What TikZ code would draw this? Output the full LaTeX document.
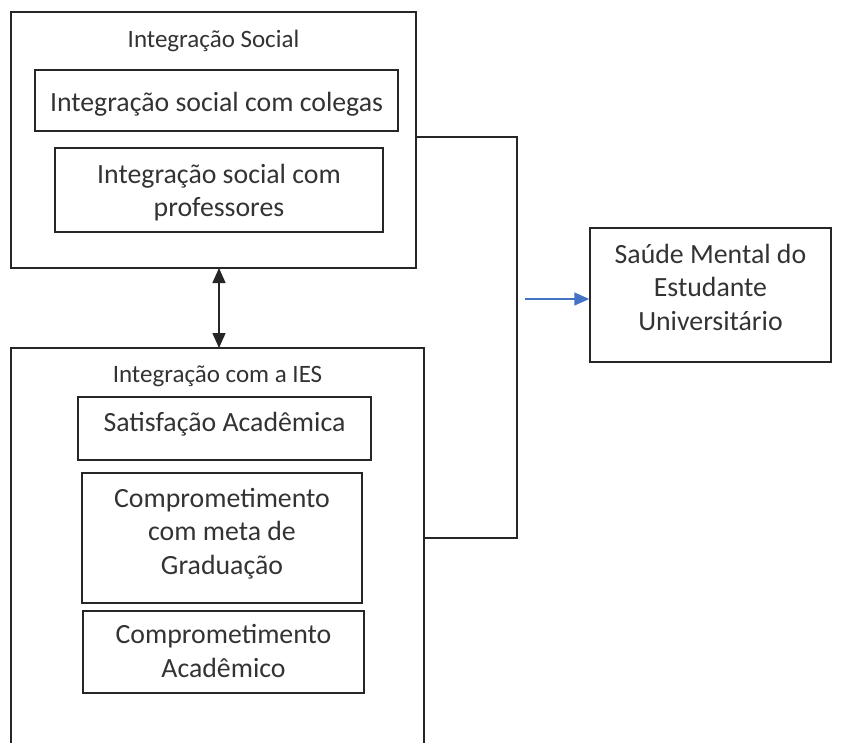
\documentclass[tikz,border=0pt]{standalone}
\usepackage{fontspec}
\setmainfont{Carlito}
\usepackage{tikz}
\usetikzlibrary{positioning,arrows.meta}

% move a label up or down inside its box without changing the box
\newcommand{\desloca}[2]{\raisebox{#1}[\height][\depth]{\begin{tabular}{@{}c@{}}#2\end{tabular}}}

\begin{document}
\begin{tikzpicture}[x=1pt, y=-1pt,
    caixa/.style={draw=black!85, line width=1.5pt, align=center, inner sep=0pt,
        text=black!80, font=\fontsize{27.8}{33.5}\selectfont},
    titulo/.style={inner sep=0pt, text=black!80, font=\fontsize{25}{30}\selectfont},
    ligacao/.style={line width=1.5pt, draw=black!85},
    ponta/.tip={Triangle[length=15pt,width=13pt]}]
% The page is exactly the size of the reference; the lower box runs off it.
\useasboundingbox (0,0) rectangle (841,742);
\clip (0,0) rectangle (841,742);

% Upper group: social integration
\node[caixa, minimum width=405pt, minimum height=256pt] (social) at (213.5,140) {};
\node[titulo] (socialtit) at (213.5,41) {Integração Social};
\node[caixa, minimum width=363pt, minimum height=61pt] (colegas) at (216.5,100.5)
    {\desloca{-4pt}{Integração social com colegas}};
\node[caixa, minimum width=328pt, minimum height=84pt] (professores) at (219,190)
    {\desloca{-3.5pt}{Integração social com\\professores}};

% Lower group: integration with the institution (cut off at the bottom)
\node[caixa, minimum width=413pt, minimum height=412pt] (ies) at (217.5,554) {};
\node[titulo] (iestit) at (217.5,376) {Integração com a IES};
\node[caixa, minimum width=293pt, minimum height=63pt] (satisfacao) at (224.5,428.5)
    {\desloca{4pt}{Satisfação Acadêmica}};
\node[caixa, minimum width=280pt, minimum height=130pt] (meta) at (222,538)
    {\desloca{4pt}{Comprometimento\\com meta de\\Graduação}};
\node[caixa, minimum width=281pt, minimum height=82pt] (academico) at (223.5,652)
    {\desloca{-2pt}{Comprometimento\\Acadêmico}};

% Outcome
\node[caixa, minimum width=241pt, minimum height=134pt] (saude) at (710.5,295)
    {\desloca{5pt}{Saúde Mental do\\Estudante\\Universitário}};

% Two-way link between the groups
\draw[ligacao, ponta-ponta]
    (219,268) coordinate (topo) -- (219,348) coordinate (base);

% Bracket joining both groups, then the arrow to the outcome
\coordinate (juncao) at (517,137);
\coordinate (saida) at (525,299);
\draw[ligacao] (social.east |- juncao) -- (juncao) -- (juncao |- 0,538) -- (ies.east |- 0,538);
\draw[line width=1.5pt, color={rgb,255:red,68;green,114;blue,196}, -ponta]
    (saida) -- (saude.west |- saida);
\end{tikzpicture}
\end{document}
